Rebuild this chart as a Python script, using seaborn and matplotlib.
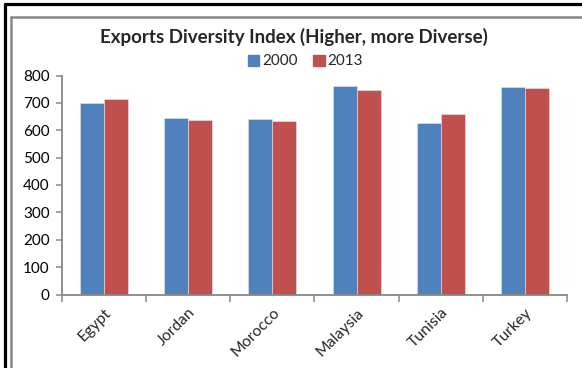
import pandas as pd
import matplotlib.pyplot as plt
import seaborn as sns
from matplotlib.lines import Line2D
from matplotlib.patches import Rectangle

# Dados
paises = ['Egypt', 'Jordan', 'Morocco', 'Malaysia', 'Tunisia', 'Turkey']
anos = ['2000', '2013']
valores_2000 = [700, 646, 642, 761, 628, 757]
valores_2013 = [713, 636, 634, 748, 658, 754]

df = pd.DataFrame({
    'Pais': paises * 2,
    'Ano': [anos[0]] * len(paises) + [anos[1]] * len(paises),
    'Valor': valores_2000 + valores_2013,
})

sns.set_style('white')
plt.rcParams['font.family'] = ['Lato', 'DejaVu Sans']

cores = {'2000': '#4F81BD', '2013': '#C0504D'}
cinza = '#878787'

fig = plt.figure(figsize=(5.82, 3.68), dpi=100)
ax = fig.add_axes([62 / 582, 73.5 / 368, 505 / 582, 219 / 368])

sns.barplot(data=df, x='Pais', y='Valor', hue='Ano', palette=cores,
            width=0.57, saturation=1, edgecolor='#e8e8e8', linewidth=0.4,
            ax=ax, legend=False)

ax.set_ylim(0, 800)
ax.set_xlim(-0.5, 5.5)
ax.set_yticks(range(0, 801, 100))
ax.set_xlabel('')
ax.set_ylabel('')

for lado in ['top', 'right']:
    ax.spines[lado].set_visible(False)
for lado in ['left', 'bottom']:
    ax.spines[lado].set_color(cinza)
    ax.spines[lado].set_linewidth(1.3)

ax.tick_params(axis='y', which='major', length=4, width=1.1, color=cinza,
               left=True, labelsize=11, pad=5, labelcolor='black')
ax.set_xticks([i - 0.5 for i in range(7)], minor=True)
ax.tick_params(axis='x', which='minor', length=5, width=1.1, color=cinza,
               bottom=True)
ax.tick_params(axis='x', which='major', length=0, pad=8, labelsize=11.3)
plt.setp(ax.get_xticklabels(), rotation=45, ha='right',
         rotation_mode='anchor')

fig.text(0.505, 0.9, 'Exports Diversity Index (Higher, more Diverse)',
         ha='center', va='center', fontsize=13.5, fontweight='bold')

# legenda manual
handles = [Rectangle((0, 0), 1, 1, color=cores[a]) for a in anos]
fig.legend(handles, anos, loc='center', bbox_to_anchor=(0.525, 0.833),
           ncol=2, frameon=False, fontsize=11, handlelength=0.75,
           handleheight=0.75, handletextpad=0.2, columnspacing=1.0,
           borderpad=0)

# bordas recortadas
fig.add_artist(Line2D([5 / 582, 5 / 582], [0, 1 - 4 / 368], color='black',
                      lw=2.3, transform=fig.transFigure))
fig.add_artist(Line2D([5 / 582, 1], [1 - 4 / 368, 1 - 4 / 368],
                      color='black', lw=2.3, transform=fig.transFigure))
fig.add_artist(Line2D([11 / 582, 11 / 582], [0, 1 - 17 / 368], color=cinza,
                      lw=1.8, transform=fig.transFigure))
fig.add_artist(Line2D([11 / 582, 1], [1 - 17 / 368, 1 - 17 / 368],
                      color=cinza, lw=1.8, transform=fig.transFigure))

fig.savefig('out.png', dpi=100)
